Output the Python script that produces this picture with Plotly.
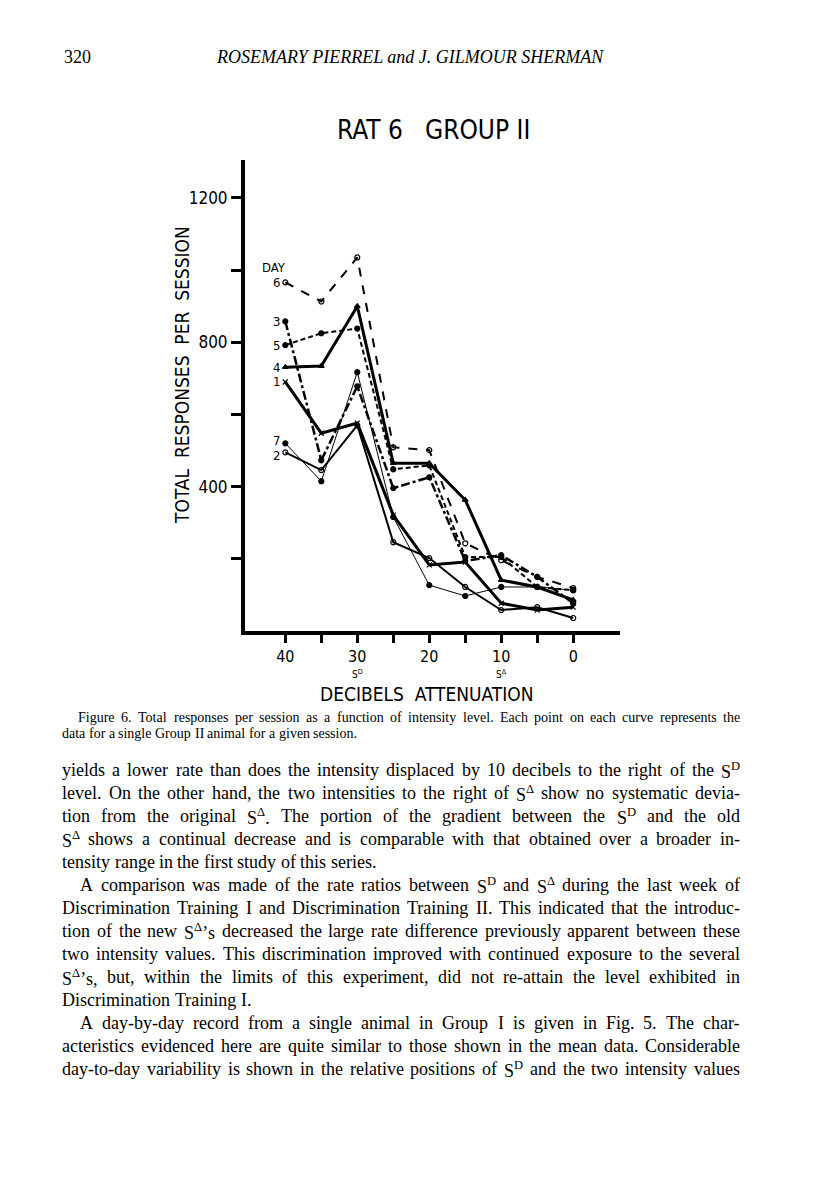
import re
import plotly.graph_objects as go

# decibels attenuation (x) and total responses per session for each day
decibels = [40, 35, 30, 25, 20, 15, 10, 5, 0]
day_labels = ["6", "3", "5", "4", "1", "7", "2"]
day6 = [966, 913, 1035, 509, 501, 243, 196, 150, 119]
day3 = [858, 473, 678, 396, 426, 194, 210, 150, 77]
day5 = [792, 825, 838, 448, 459, 205, 205, 122, 113]
day4 = [731, 734, 900, 465, 465, 363, 141, 122, 86]
day1 = [690, 548, 576, 321, 183, 191, 77, 58, 66]
day7 = [520, 415, 717, 316, 127, 97, 122, 122, 113]
day2 = [495, 446, 570, 246, 202, 122, 58, 66, 36]

y_ticks = [200, 400, 600, 800, 1000, 1200]
y_ticktext = ["", "400", "", "800", "", "1200"]
x_ticks = [40, 35, 30, 25, 20, 15, 10, 5, 0]
x_ticktext = ["40", "", "30", "", "20", "", "10", "", "0"]

caption = [
    "Figure 6. Total responses per session as a function of intensity level. Each point on each curve represents the",
    "data for a single Group II animal for a given session.",
]
body = [
    "yields a lower rate than does the intensity displaced by 10 decibels to the right of the S<sup>D</sup>",
    "level. On the other hand, the two intensities to the right of S<sup>Δ</sup> show no systematic devia-",
    "tion from the original S<sup>Δ</sup>. The portion of the gradient between the S<sup>D</sup> and the old",
    "S<sup>Δ</sup> shows a continual decrease and is comparable with that obtained over a broader in-",
    "tensity range in the first study of this series.",
    "A comparison was made of the rate ratios between S<sup>D</sup> and S<sup>Δ</sup> during the last week of",
    "Discrimination Training I and Discrimination Training II. This indicated that the introduc-",
    "tion of the new S<sup>Δ</sup>’s decreased the large rate difference previously apparent between these",
    "two intensity values. This discrimination improved with continued exposure to the several",
    "S<sup>Δ</sup>’s, but, within the limits of this experiment, did not re-attain the level exhibited in",
    "Discrimination Training I.",
    "A day-by-day record from a single animal in Group I is given in Fig. 5. The char-",
    "acteristics evidenced here are quite similar to those shown in the mean data. Considerable",
    "day-to-day variability is shown in the relative positions of S<sup>D</sup> and the two intensity values",
]
body_indent = [0, 0, 0, 0, 0, 1, 0, 0, 0, 0, 0, 1, 0, 0]
body_last = [0, 0, 0, 0, 1, 0, 0, 0, 0, 0, 1, 0, 0, 0]

OFF = 8  # the page body has an 8px margin
W, H = 816 - OFF, 1188 - OFF
SANS = "DejaVu Sans Condensed, DejaVu Sans"
SERIF = "Liberation Serif"

# Times/Liberation Serif advance widths (per 1000 em)
TIMES = dict(zip("ABCDEFGHIJKLMNOPQRSTUVWXYZ",
                 [722, 667, 667, 722, 611, 556, 722, 722, 333, 389, 722, 611, 889,
                  722, 722, 556, 722, 667, 556, 611, 722, 722, 944, 722, 722, 611]))
TIMES.update(zip("abcdefghijklmnopqrstuvwxyz",
                 [444, 500, 444, 500, 444, 333, 500, 500, 278, 278, 500, 278, 778,
                  500, 500, 500, 500, 333, 389, 278, 500, 500, 722, 500, 500, 444]))
TIMES.update({" ": 250, ".": 250, ",": 250, "-": 333, "’": 333, "'": 333, ":": 278,
              ";": 278, "Δ": 612, "(": 333, ")": 333})


def px(x, y):
    # page pixels -> paper coords
    return (x - OFF) / W, 1 - (y - OFF) / H


def word_width(word, size):
    w, scale = 0.0, 1.0
    for part in re.split(r"(</?sup>)", word):
        if part == "<sup>":
            scale = 0.7
        elif part == "</sup>":
            scale = 1.0
        else:
            w += sum(TIMES.get(c, 500) for c in part) * scale
    return w * size / 1000


def add_line(fig, line, x_left, x_right, y, size, justify):
    words = line.split(" ")
    widths = [word_width(wd, size) for wd in words]
    if justify and len(words) > 1:
        gap = (x_right - x_left - sum(widths)) / (len(words) - 1)
    else:
        gap = 250 * size / 1000
    x = x_left
    for wd, wdw in zip(words, widths):
        ax, ay = px(x, y)
        fig.add_annotation(x=ax, y=ay, xref="paper", yref="paper", text=wd, showarrow=False,
                           xanchor="left", yanchor="middle", borderpad=0, borderwidth=0,
                           font=dict(family=SERIF, size=size, color="black"))
        x += wdw + gap


fig = go.Figure()

styles = [
    (day6, "dash", 2, "circle-open"),
    (day3, "dashdot", 2.5, "circle"),
    (day5, "5px,3px", 2, "circle"),
    (day4, "solid", 3, "triangle-up"),
    (day1, "solid", 3, "x-thin-open"),
    (day7, "solid", 1, "circle"),
    (day2, "solid", 2, "circle-open"),
]
label_shift = [0, 0, 0, 0, 0, 3, -3]
for (vals, dash, w, sym), lab, ys in zip(styles, day_labels, label_shift):
    fig.add_trace(go.Scatter(
        x=decibels, y=vals, mode="lines+markers", name="Day " + lab,
        line=dict(color="black", width=w, dash=dash),
        marker=dict(symbol=sym, size=5, color="black", line=dict(color="black", width=1.2)),
        showlegend=False,
    ))
    fig.add_annotation(x=decibels[0], y=vals[0], xref="x", yref="y", text=lab,
                       showarrow=False, xanchor="right", xshift=-3, yshift=ys,
                       font=dict(family=SANS, size=13, color="black"))

fig.add_annotation(x=decibels[0], y=day6[0], xref="x", yref="y", text="DAY",
                   showarrow=False, xanchor="center", yshift=15, xshift=-11,
                   font=dict(family=SANS, size=13, color="black"))

# S-D and S-delta markers under the x ticks
for xv, t in [(30, "S<sup>D</sup>"), (10, "S<sup>Δ</sup>")]:
    fig.add_annotation(x=xv, y=0, xref="x", yref="y", text=t, showarrow=False,
                       yshift=-43, font=dict(family=SANS, size=10, color="black"))

x0, y0 = px(245, 631)
x1, y1 = px(620, 160)
fig.update_xaxes(
    domain=[x0, x1], range=[45.6, -6.5], autorange=False,
    showline=True, linewidth=4, linecolor="black", showgrid=False, zeroline=False,
    tickvals=x_ticks, ticktext=x_ticktext, ticks="outside", ticklen=8, tickwidth=2.5,
    tickcolor="black", tickfont=dict(family=SANS, size=16, color="black"),
)
fig.update_yaxes(
    domain=[y0, y1], range=[0, 1305], autorange=False,
    showline=True, linewidth=4, linecolor="black", showgrid=False, zeroline=False,
    tickvals=y_ticks, ticktext=y_ticktext, ticks="outside", ticklen=10, tickwidth=2.5,
    tickcolor="black", tickfont=dict(family=SANS, size=17, color="black"),
)

# axis titles and chart title
tx, ty = px(426, 694)
fig.add_annotation(x=tx, y=ty, xref="paper", yref="paper", text="DECIBELS  ATTENUATION",
                   showarrow=False, xanchor="center", yanchor="middle",
                   font=dict(family=SANS, size=19, color="black"))
tx, ty = px(182, 375)
fig.add_annotation(x=tx, y=ty, xref="paper", yref="paper", text="TOTAL  RESPONSES  PER  SESSION",
                   showarrow=False, textangle=-90, xanchor="center", yanchor="middle",
                   font=dict(family=SANS, size=19, color="black"))
tx, ty = px(433, 130)
fig.add_annotation(x=tx, y=ty, xref="paper", yref="paper", text="RAT 6   GROUP II", showarrow=False,
                   xanchor="center", yanchor="middle", font=dict(family=SANS, size=26, color="black"))

# running head
ax, ay = px(62, 57)
fig.add_annotation(x=ax, y=ay, xref="paper", yref="paper", text="320", showarrow=False,
                   xanchor="left", yanchor="middle", font=dict(family=SERIF, size=18, color="black"))
ax, ay = px(410, 57)
fig.add_annotation(x=ax, y=ay, xref="paper", yref="paper",
                   text="<i>ROSEMARY PIERREL and J. GILMOUR SHERMAN</i>", showarrow=False,
                   xanchor="center", yanchor="middle", font=dict(family=SERIF, size=18, color="black"))

# caption and body text, justified to the text block
for i, line in enumerate(caption):
    add_line(fig, line, 78 if i == 0 else 62, 740, 717 + 16 * i, 14, i == 0)

for i, line in enumerate(body):
    add_line(fig, line, 62 + 18 * body_indent[i], 740, 770 + 23 * i, 18, not body_last[i])

fig.update_layout(
    width=W, height=H, margin=dict(l=0, r=0, t=0, b=0),
    paper_bgcolor="white", plot_bgcolor="white",
)

fig.write_html("out.html")
